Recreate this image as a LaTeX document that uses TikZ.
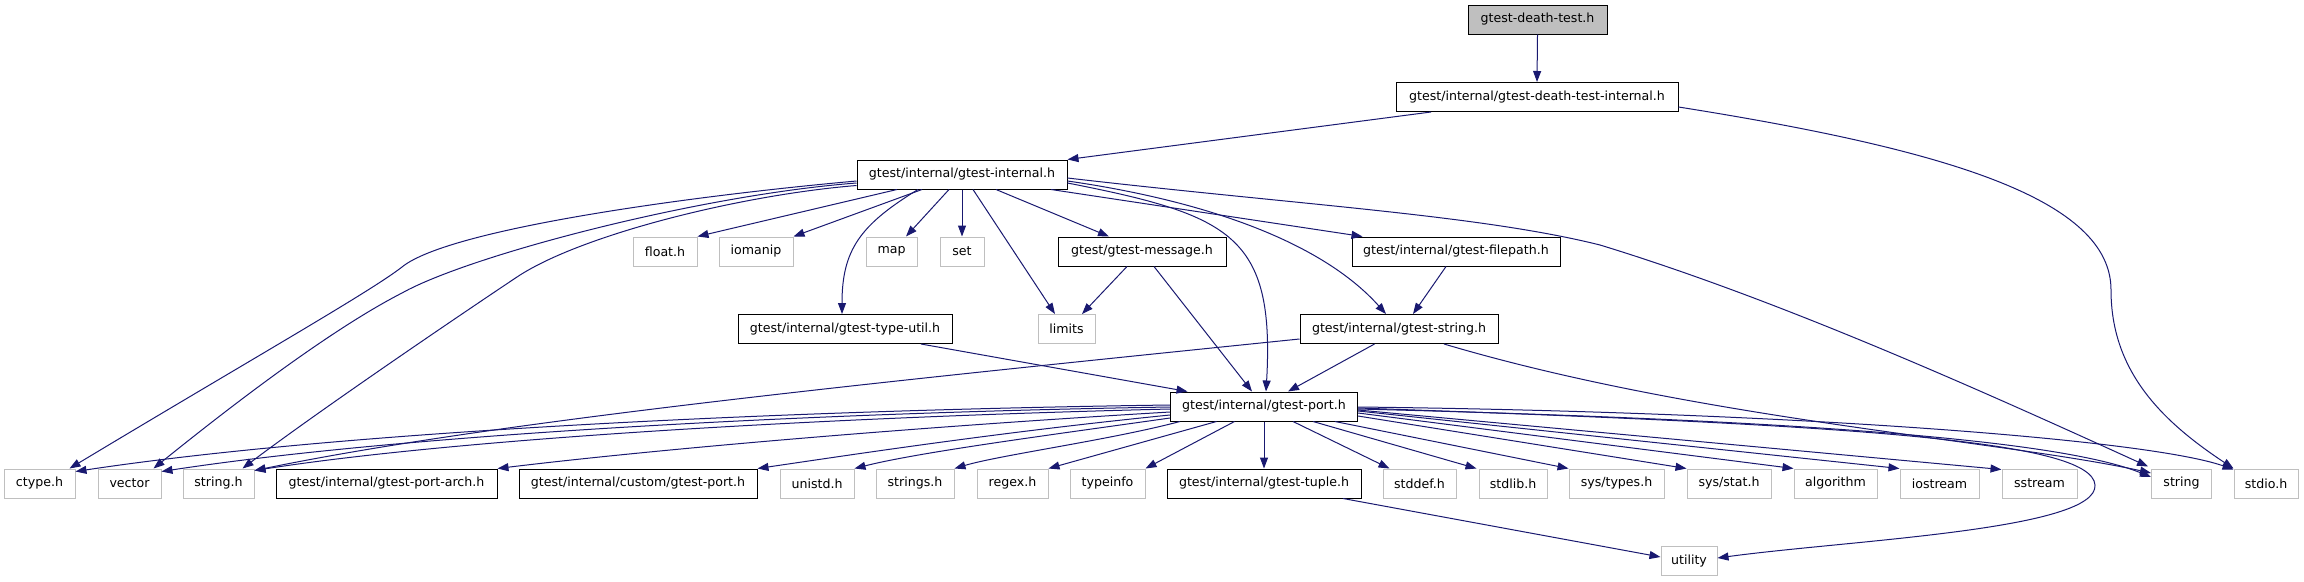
\documentclass[tikz,border=0pt]{standalone}
\usepackage{fontspec}
\setmainfont{DejaVu Sans}
\usetikzlibrary{arrows.meta}
\definecolor{edgeblue}{HTML}{191970}
\definecolor{sysgrey}{HTML}{BFBFBF}
\begin{document}
\begin{tikzpicture}[x=1pt,y=-1pt,
  box/.style={draw=black,line width=1pt,fill=white,minimum height=29pt,inner sep=0pt,font=\fontsize{12.6}{15}\selectfont,anchor=center},
  sysbox/.style={box,draw=sysgrey},
  rootbox/.style={box,fill=sysgrey},
  edge/.style={draw=edgeblue,line width=1pt,-{Triangle[length=11pt,width=8pt]}}]
\useasboundingbox (0,0) rectangle (2304,581);
% nodes
\node[rootbox,minimum width=139pt] (dt) at (1537.5,19.5) {gtest-death-test.h};
\node[box,minimum width=282pt] (dti) at (1537,97) {gtest/internal/gtest-death-test-internal.h};
\node[box,minimum width=210pt] (gi) at (962,174.5) {gtest/internal/gtest-internal.h};
\node[sysbox,minimum width=64pt] (floath) at (665,251.5) {float.h};
\node[sysbox,minimum width=74pt] (iomanip) at (756,251.5) {iomanip};
\node[sysbox,minimum width=51pt] (map) at (891.5,251.5) {map};
\node[sysbox,minimum width=44pt] (set) at (962,251.5) {set};
\node[box,minimum width=168pt] (msg) at (1142,251.5) {gtest/gtest-message.h};
\node[box,minimum width=208pt] (fp) at (1456,251.5) {gtest/internal/gtest-filepath.h};
\node[box,minimum width=214pt] (tu) at (845,329) {gtest/internal/gtest-type-util.h};
\node[sysbox,minimum width=57pt] (limits) at (1066.5,329) {limits};
\node[box,minimum width=198pt] (gs) at (1399,329) {gtest/internal/gtest-string.h};
\node[box,minimum width=187pt] (gp) at (1264,406.5) {gtest/internal/gtest-port.h};
\node[sysbox,minimum width=71pt] (ctype) at (39.5,483.5) {ctype.h};
\node[sysbox,minimum width=63pt] (vector) at (129.5,483.5) {vector};
\node[sysbox,minimum width=71pt] (stringh) at (218.5,483.5) {string.h};
\node[box,minimum width=221pt] (arch) at (386.5,483.5) {gtest/internal/gtest-port-arch.h};
\node[box,minimum width=238pt] (custom) at (638,483.5) {gtest/internal/custom/gtest-port.h};
\node[sysbox,minimum width=74pt] (unistd) at (817,483.5) {unistd.h};
\node[sysbox,minimum width=78pt] (strings) at (915,483.5) {strings.h};
\node[sysbox,minimum width=71pt] (regex) at (1012.5,483.5) {regex.h};
\node[sysbox,minimum width=75pt] (typeinfo) at (1107.5,483.5) {typeinfo};
\node[box,minimum width=194pt] (tuple) at (1264,483.5) {gtest/internal/gtest-tuple.h};
\node[sysbox,minimum width=73pt] (stddef) at (1419.5,483.5) {stddef.h};
\node[sysbox,minimum width=68pt] (stdlib) at (1513,483.5) {stdlib.h};
\node[sysbox,minimum width=95pt] (systypes) at (1616.5,483.5) {sys/types.h};
\node[sysbox,minimum width=84pt] (sysstat) at (1729,483.5) {sys/stat.h};
\node[sysbox,minimum width=83pt] (algorithm) at (1835.5,483.5) {algorithm};
\node[sysbox,minimum width=79pt] (iostream) at (1939.5,483.5) {iostream};
\node[sysbox,minimum width=75pt] (sstream) at (2039.5,483.5) {sstream};
\node[sysbox,minimum width=60pt] (string) at (2181.5,483.5) {string};
\node[sysbox,minimum width=64pt] (stdio) at (2266,483.5) {stdio.h};
\node[sysbox,minimum width=56pt] (utility) at (1689,561) {utility};
% edges
\draw[edge] (dt.south) -- (dti.north);
\draw[edge] ([shift={(-106,0)}]dti.south) -- (gi.north east);
\draw[edge] ([shift={(0,10)}]dti.east) .. controls (1950,150) and (2111,200) .. (2111,290) .. controls (2111,370) and (2160,420) .. (stdio.north west);
\draw[edge] ([shift={(0,6.5)}]gi.west) .. controls (700,195) and (450,228) .. (402,267) .. controls (370,292) and (250,360) .. ([shift={(-6,0)}]ctype.north east);
\draw[edge] ([shift={(0,8.5)}]gi.west) .. controls (700,195) and (470,255) .. (402,293) .. controls (322,334) and (210,423) .. ([shift={(-8,0)}]vector.north east);
\draw[edge] ([shift={(0,11)}]gi.west) .. controls (740,195) and (580,235) .. (517,277) .. controls (457,317) and (320,410) .. ([shift={(-12,0)}]stringh.north east);
\draw[edge] ([shift={(-65,0)}]gi.south) -- (floath.north east);
\draw[edge] ([shift={(-40,0)}]gi.south) -- (iomanip.north east);
\draw[edge] ([shift={(-44,0)}]gi.south) .. controls (860,225) and (842,250) .. ([shift={(-3,0)}]tu.north);
\draw[edge] ([shift={(-13,0)}]gi.south) -- ([shift={(14.5,0)}]map.north);
\draw[edge] (gi.south) -- (set.north);
\draw[edge] ([shift={(11,0)}]gi.south) -- ([shift={(-11.5,0)}]limits.north);
\draw[edge] ([shift={(34,0)}]gi.south) -- ([shift={(-33,0)}]msg.north);
\draw[edge] ([shift={(89,0)}]gi.south) -- ([shift={(11,0)}]fp.north west);
\draw[edge] ([shift={(0,8.5)}]gi.east) .. controls (1230,215) and (1275,235) .. ([shift={(2,0)}]gp.north);
\draw[edge] ([shift={(0,6.5)}]gi.east) .. controls (1200,200) and (1320,240) .. ([shift={(-13,0)}]gs.north);
\draw[edge] ([shift={(0,3.5)}]gi.east) .. controls (1300,205) and (1480,215) .. (1600,245) .. controls (1780,300) and (1980,390) .. ([shift={(-3,-2)}]string.north west);
\draw[edge] ([shift={(-15,0)}]msg.south) -- ([shift={(15.5,0)}]limits.north);
\draw[edge] ([shift={(12,0)}]msg.south) -- ([shift={(-12,0)}]gp.north);
\draw[edge] ([shift={(-10,0)}]fp.south) -- ([shift={(14,0)}]gs.north);
\draw[edge] ([shift={(76,0)}]tu.south) -- ([shift={(17.5,0)}]gp.north west);
\draw[edge] ([shift={(-24.5,0)}]gs.south) -- ([shift={(24,0)}]gp.north);
\draw[edge] ([shift={(0,10)}]gs.west) .. controls (900,380) and (500,420) .. ([shift={(0,2)}]stringh.north east);
\draw[edge] ([shift={(45,0)}]gs.south) .. controls (1700,420) and (2000,440) .. ([shift={(0,-10.5)}]string.west);
\draw[edge] ([shift={(0,-1.5)}]gp.west) .. controls (800,410) and (350,430) .. ([shift={(0,3)}]ctype.north east);
\draw[edge] ([shift={(0,0.5)}]gp.west) .. controls (800,413) and (400,435) .. ([shift={(0,3)}]vector.north east);
\draw[edge] ([shift={(0,2.5)}]gp.west) .. controls (800,418) and (450,440) .. ([shift={(0,2)}]stringh.north east);
\draw[edge] ([shift={(0,5.5)}]gp.west) .. controls (900,428) and (650,450) .. (arch.north east);
\draw[edge] ([shift={(0,8.5)}]gp.west) .. controls (1000,432) and (850,455) .. (custom.north east);
\draw[edge] ([shift={(0,11.5)}]gp.west) .. controls (1050,435) and (920,452) .. (unistd.north east);
\draw[edge] ([shift={(10,0)}]gp.south west) .. controls (1110,440) and (1000,455) .. (strings.north east);
\draw[edge] ([shift={(46.5,0)}]gp.south west) -- (regex.north east);
\draw[edge] ([shift={(64.5,0)}]gp.south west) -- (typeinfo.north east);
\draw[edge] (gp.south) -- (tuple.north);
\draw[edge] ([shift={(29,0)}]gp.south) -- ([shift={(7,0)}]stddef.north west);
\draw[edge] ([shift={(49,0)}]gp.south) -- ([shift={(-2,0)}]stdlib.north west);
\draw[edge] ([shift={(71,0)}]gp.south) -- (systypes.north west);
\draw[edge] ([shift={(0,9.5)}]gp.east) -- (sysstat.north west);
\draw[edge] ([shift={(0,6.5)}]gp.east) -- (algorithm.north west);
\draw[edge] ([shift={(0,4.5)}]gp.east) -- (iostream.north west);
\draw[edge] ([shift={(0,3.5)}]gp.east) -- ([shift={(0,1)}]sstream.north west);
\draw[edge] ([shift={(0,2.5)}]gp.east) .. controls (1800,420) and (2060,440) .. ([shift={(0,-6.5)}]string.west);
\draw[edge] ([shift={(0,0.5)}]gp.east) .. controls (1800,412) and (2150,440) .. ([shift={(0,1)}]stdio.north west);
\draw[edge] ([shift={(0,1.5)}]gp.east) .. controls (1850,425) and (2092,440) .. (2095,485) .. controls (2098,530) and (1850,540) .. ([shift={(0,-3)}]utility.east);
\draw[edge] ([shift={(79,0)}]tuple.south) -- ([shift={(0,-4)}]utility.west);
\end{tikzpicture}
\end{document}
